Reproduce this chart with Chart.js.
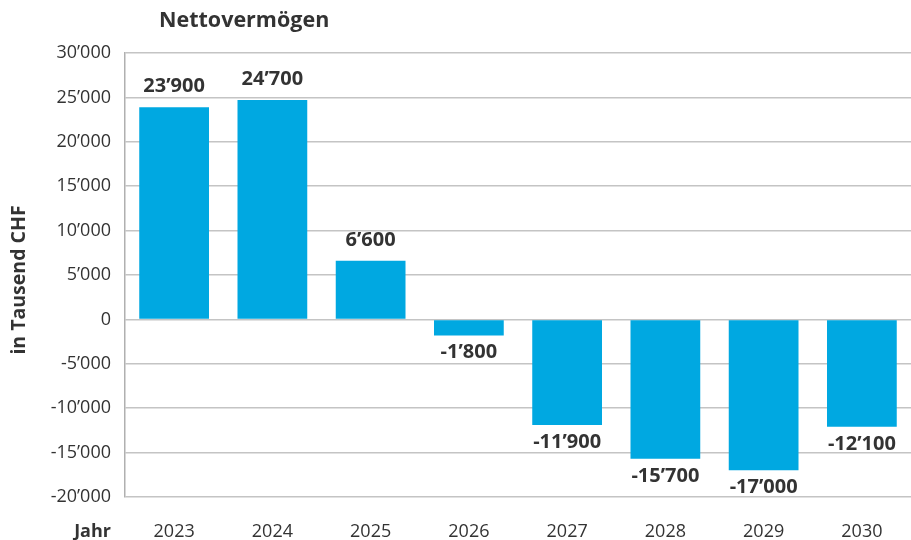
<!DOCTYPE html>
<html>
<head>
<meta charset="utf-8">
<script src="https://cdn.jsdelivr.net/npm/chart.js@4"></script>
<style>
  html, body { margin: 0; padding: 0; background: #fff; }
  #wrap { width: 911px; height: 540px; position: relative; }
</style>
</head>
<body>
<div id="wrap"><canvas id="netChart"></canvas></div>
<script>
const years = ['2023', '2024', '2025', '2026', '2027', '2028', '2029', '2030'];
const netAssets = [23900, 24700, 6600, -1800, -11900, -15700, -17000, -12100];
const yMin = -20000;
const yMax = 30000;
const yStep = 5000;

const FONT = "'Open Sans', 'Noto Sans', sans-serif";
const TEXT = '#333333';

function fmt(v) {
  const s = Math.abs(v).toString().replace(/\B(?=(\d{3})+(?!\d))/g, '\u2019');
  return (v < 0 ? '-' : '') + s;
}

// value labels above / below bars, plus the fixed captions
const labelPlugin = {
  id: 'labels',
  afterDatasetsDraw(chart) {
    const ctx = chart.ctx;
    const meta = chart.getDatasetMeta(0);
    ctx.save();
    ctx.fillStyle = TEXT;
    ctx.font = 'bold 20px ' + FONT;
    ctx.textAlign = 'center';
    ctx.textBaseline = 'alphabetic';
    meta.data.forEach((bar, i) => {
      const v = netAssets[i];
      if (v >= 0) ctx.fillText(fmt(v), bar.x, bar.y - 15);
      else ctx.fillText(fmt(v), bar.x, bar.y + 23);
    });

    // chart title
    ctx.textAlign = 'left';
    ctx.textBaseline = 'middle';
    ctx.font = 'bold 21.5px ' + FONT;
    ctx.fillText('Nettovermögen', 159, 21);

    // "Jahr" next to the year labels
    ctx.textAlign = 'right';
    ctx.font = 'bold 18px ' + FONT;
    ctx.fillText('Jahr', 111, 532);

    // y axis title
    ctx.font = 'bold 19.5px ' + FONT;
    ctx.translate(19, 280);
    ctx.rotate(-Math.PI / 2);
    ctx.textAlign = 'center';
    ctx.fillText('in Tausend CHF', 0, 0);
    ctx.restore();
  }
};

new Chart(document.getElementById('netChart'), {
  type: 'bar',
  data: {
    labels: years,
    datasets: [{
      label: 'Nettovermögen',
      data: netAssets,
      backgroundColor: '#00A8E1',
      borderWidth: 0,
      barPercentage: 0.71,
      categoryPercentage: 1.0
    }]
  },
  options: {
    responsive: true,
    maintainAspectRatio: false,
    animation: false,
    layout: { padding: { top: 53, right: 0, bottom: 0, left: 0 } },
    plugins: {
      legend: { display: false },
      title: { display: false },
      tooltip: { enabled: false }
    },
    scales: {
      x: {
        grid: { display: false, drawTicks: false },
        border: { display: false },
        ticks: { color: TEXT, font: { family: FONT, size: 18 }, padding: 24, maxRotation: 0 },
        afterFit: s => { s.height = 43; }
      },
      y: {
        min: yMin,
        max: yMax,
        grid: { color: '#c4c4c4', lineWidth: 1.5, drawTicks: false },
        border: { display: true, color: '#b0b0b0', width: 1.5 },
        ticks: {
          stepSize: yStep,
          color: TEXT,
          font: { family: FONT, size: 18 },
          padding: 14,
          callback: v => fmt(v)
        },
        afterFit: s => { s.width = 125; }
      }
    }
  },
  plugins: [labelPlugin]
});
</script>
</body>
</html>
